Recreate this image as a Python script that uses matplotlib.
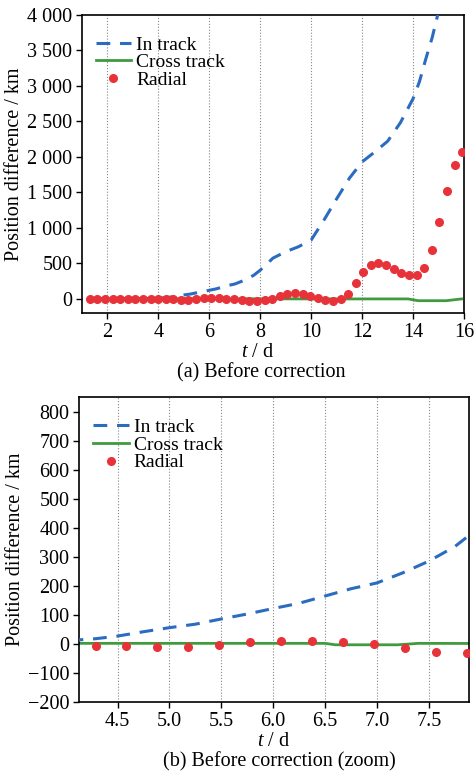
import matplotlib
matplotlib.use("Agg")
import matplotlib.pyplot as plt
from matplotlib.ticker import FuncFormatter, MultipleLocator

# ---------------- data ----------------
t_in = [1.30, 2.0, 3.0, 3.8, 4.13, 4.29, 4.5, 4.75, 5.0, 5.25, 5.5, 5.75, 6.0, 6.25,
        6.5, 6.75, 7.0, 7.25, 7.5, 7.75, 8.0, 8.5, 9.0, 9.5, 10.0, 10.5, 11.0, 11.5,
        12.0, 12.5, 13.0, 13.5, 14.0, 14.25, 14.5, 14.75, 15.0]
in_track = [0, 0, 2, 8, 14, 18, 27, 42, 56, 68, 86, 103, 122, 140,
            165, 190, 210, 245, 285, 335, 405, 575, 665, 735, 830, 1110, 1410, 1700,
            1930, 2070, 2220, 2480, 2820, 3060, 3380, 3680, 4050]

t_cross = [1.30, 4.0, 6.5, 6.6, 7.2, 7.4, 10.0, 13.8, 14.2, 15.3, 15.9]
cross_track = [2, 2, 2, -3, -3, 2, 0, 0, -25, -25, 0]

t_rad = [1.30, 1.60, 1.90, 2.20, 2.49, 2.79, 3.09, 3.39, 3.69, 3.99,
         4.29, 4.58, 4.88, 5.18, 5.48, 5.78, 6.08, 6.37, 6.67, 6.97,
         7.27, 7.57, 7.87, 8.17, 8.46, 8.76, 9.06, 9.36, 9.66, 9.96,
         10.26, 10.55, 10.85, 11.15, 11.45, 11.75, 12.05, 12.34, 12.64, 12.94,
         13.24, 13.54, 13.84, 14.14, 14.43, 14.73, 15.03, 15.33, 15.63, 15.93]
radial = [-3, -4, -2, -3, -4, -2, -3, -5, -4, -6,
          -8, -8, -11, -11, -5, 7, 9, 9, 5, -1,
          -13, -27, -31, -20, 2, 47, 75, 78, 76, 47,
          14, -14, -28, 2, 70, 221, 376, 479, 502, 480,
          418, 362, 330, 340, 432, 690, 1080, 1525, 1887, 2066]

labels = ["In track", "Cross track", "Radial"]
captions = ["(a) Before correction", "(b) Before correction (zoom)"]
xlabel = "$t$ / d"
ylabel = "Position difference / km"

# ---------------- style ----------------
plt.rcParams['font.family'] = ['Liberation Serif', 'DejaVu Serif']
plt.rcParams['mathtext.fontset'] = 'custom'
plt.rcParams['mathtext.it'] = 'Liberation Serif:italic'
plt.rcParams['mathtext.rm'] = 'Liberation Serif'
FS = 14.5
plt.rcParams['font.size'] = FS

BLUE = '#2b6cc0'
GREEN = '#3f9b3c'
RED = '#e8323a'

fig = plt.figure(figsize=(4.74, 7.77), dpi=100)
ax1 = fig.add_axes([0.173, 0.597, 0.806, 0.384])
ax2 = fig.add_axes([0.167, 0.0965, 0.822, 0.3925])


def thousands(v, pos):
    s = f"{int(round(v)):d}"
    neg = s.startswith('-')
    s = s.lstrip('-')
    if len(s) > 3:
        s = s[:-3] + ' ' + s[-3:]
    return ('\u2212' if neg else '') + s


def draw(ax):
    ax.plot(t_in, in_track, color=BLUE, lw=2.2, ls=(0, (4.5, 3.2)), label=labels[0], zorder=3)
    ax.plot(t_cross, cross_track, color=GREEN, lw=2.0, label=labels[1], zorder=2)
    ax.plot(t_rad, radial, ls='none', marker='o', ms=5.5, color=RED, mec=RED,
            label=labels[2], zorder=4)
    ax.grid(axis='x', ls=':', color='#888888', lw=0.8)
    ax.set_axisbelow(True)
    for s in ax.spines.values():
        s.set_linewidth(1.2)
    ax.tick_params(axis='both', direction='out', length=4, width=1, labelsize=FS, pad=3)
    ax.yaxis.set_major_formatter(FuncFormatter(thousands))
    ax.set_ylabel(ylabel, fontsize=FS, labelpad=2)
    ax.legend(loc='upper left', bbox_to_anchor=(0.015, 0.955), frameon=False,
              handlelength=1.85, handletextpad=0.25, labelspacing=0.0,
              borderaxespad=0.0, fontsize=14)


draw(ax1)
ax1.set_xlim(1.0, 16.0)
ax1.set_ylim(-200, 4000)
ax1.xaxis.set_major_locator(MultipleLocator(2))
ax1.yaxis.set_major_locator(MultipleLocator(500))
ax1.set_xlabel(xlabel, fontsize=FS, labelpad=1)
ax1.xaxis.set_label_coords(0.46, -0.10)
fig.text(0.552, 0.52, captions[0], ha='center', va='center', fontsize=FS)

draw(ax2)
ax2.set_xlim(4.13, 7.885)
ax2.set_ylim(-200, 850)
ax2.xaxis.set_major_locator(MultipleLocator(0.5))
ax2.xaxis.set_major_formatter(FuncFormatter(lambda v, p: f"{v:.1f}"))
ax2.yaxis.set_major_locator(MultipleLocator(100))
ax2.set_xlabel(xlabel, fontsize=FS, labelpad=1)
fig.text(0.59, 0.020, captions[1], ha='center', va='center', fontsize=FS)

fig.savefig('out.png', dpi=100)
